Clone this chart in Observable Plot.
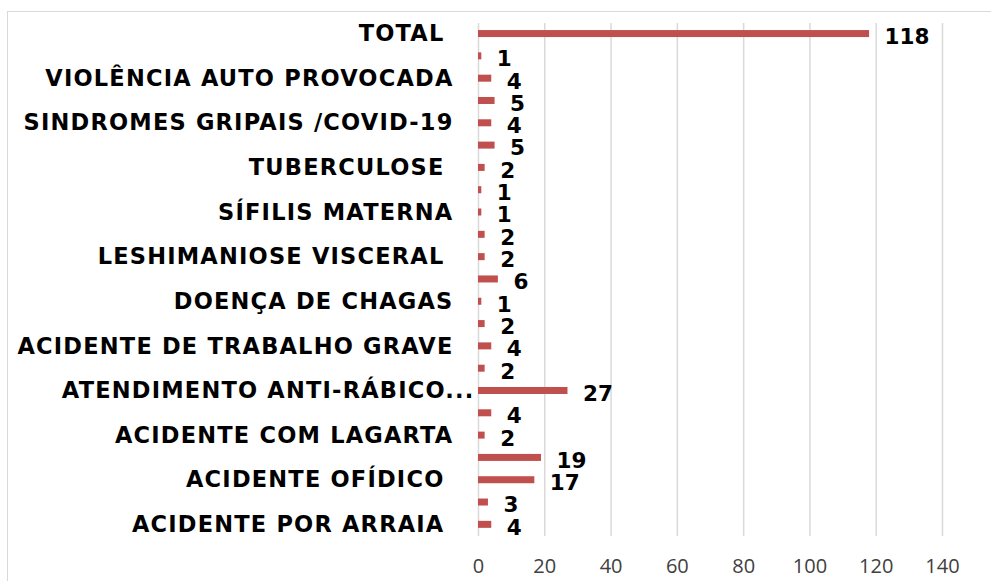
<!DOCTYPE html>
<html>
<head>
<meta charset="utf-8">
<script src="https://cdn.jsdelivr.net/npm/d3@7"></script>
<script src="https://cdn.jsdelivr.net/npm/@observablehq/plot@0.6"></script>
<style>
  html, body { margin: 0; padding: 0; background: #fff; overflow: hidden; }
  #wrap { position: relative; width: 991px; height: 581px; }
  #frame { position: absolute; left: 7px; top: 11px; width: 1100px; height: 700px;
           border: 1.5px solid #d9d9d9; box-sizing: border-box; pointer-events: none; z-index: 2; }
</style>
</head>
<body>
<div id="wrap"><div id="frame"></div></div>
<script>
const categories = [
  "TOTAL ", "", "VIOLÊNCIA AUTO PROVOCADA", "", "SINDROMES GRIPAIS /COVID-19", "",
  "TUBERCULOSE ", "", "SÍFILIS MATERNA", "", "LESHIMANIOSE VISCERAL ", "",
  "DOENÇA DE CHAGAS", "", "ACIDENTE DE TRABALHO GRAVE", "", "ATENDIMENTO ANTI-RÁBICO...", "",
  "ACIDENTE COM LAGARTA", "", "ACIDENTE OFÍDICO ", "", "ACIDENTE POR ARRAIA "
];
const values = [118, 1, 4, 5, 4, 5, 2, 1, 1, 2, 2, 6, 1, 2, 4, 2, 27, 4, 2, 19, 17, 3, 4];
const xTicks = [0, 20, 40, 60, 80, 100, 120, 140];

const data = categories.map((label, i) => ({i, label, value: values[i]}));
const longLabelIndex = categories.indexOf("ATENDIMENTO ANTI-RÁBICO...");

const labelStyle = {fontFamily: "DejaVu Sans", fontWeight: "bold", fontSize: 21.5, fill: "#000"};
const catStyle = {fontFamily: "DejaVu Sans", fontWeight: "bold", fontSize: 22.5, fill: "#000"};

const chart = Plot.plot({
  width: 991,
  height: 581,
  marginLeft: 478,
  marginRight: 49,
  marginTop: 23,
  marginBottom: 45,
  style: {background: "transparent", fontFamily: "'Open Sans', sans-serif", fontSize: "20px", color: "#404040"},
  x: {domain: [0, 140], ticks: xTicks, tickSize: 0, tickPadding: 22, label: null, tickFormat: d => String(d)},
  y: {type: "band", domain: d3.range(categories.length), range: [22.4, 535.5], round: false,
      paddingInner: 0.686, paddingOuter: 0.343, axis: null},
  marks: [
    Plot.ruleX(xTicks, {stroke: "#d9d9d9", strokeWidth: 1.5}),
    Plot.barX(data, {x: "value", y: "i", fill: "#C0504D"}),
    Plot.text(data, {x: "value", y: "i", text: d => String(d.value), textAnchor: "start",
      dx: 15, dy: 3, ...labelStyle}),
    Plot.text(data.filter(d => d.label !== "" && d.i !== longLabelIndex), {y: "i", text: "label",
      frameAnchor: "left", textAnchor: "end", dx: -25, ...catStyle}),
    Plot.text(data.filter(d => d.i === longLabelIndex), {y: "i", text: "label",
      frameAnchor: "left", textAnchor: "end", dx: -4, ...catStyle})
  ]
});
d3.select(chart).selectAll("text")
  .filter(function() { return categories.includes(this.textContent) && this.textContent !== ""; })
  .style("letter-spacing", "1.2px")
  .style("white-space", "pre");
document.getElementById("wrap").appendChild(chart);
chart.style.position = "absolute";
chart.style.left = "0";
chart.style.top = "0";
</script>
</body>
</html>
